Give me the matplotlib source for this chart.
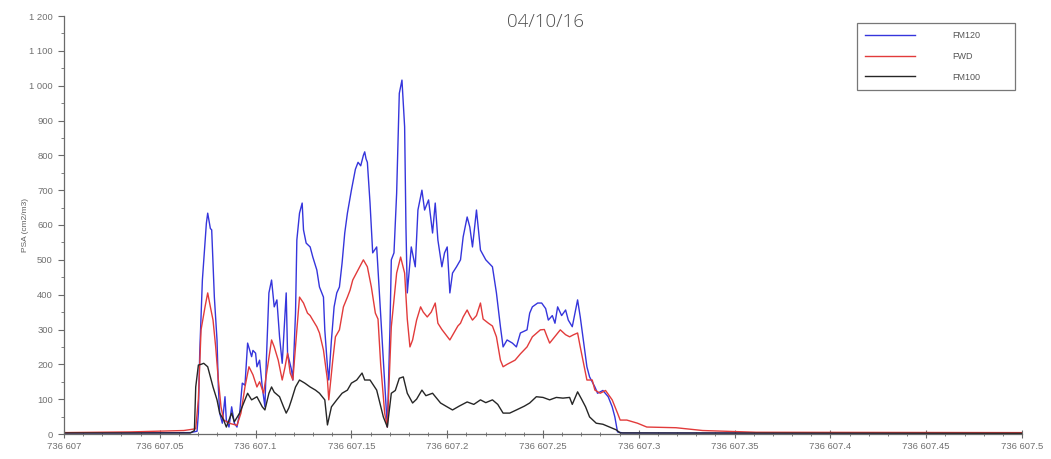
import matplotlib
matplotlib.use("Agg")
import matplotlib.pyplot as plt
from matplotlib.ticker import MultipleLocator, FuncFormatter
import numpy as np

# datenum of the day, readings are minutes after midnight
day0 = 736607

# FM120 (blue)
t_fm120 = [0, 50, 95, 100, 101, 102, 104, 107, 108, 110, 111, 112, 113, 115, 116, 117, 119, 121, 122, 124,
           126, 128, 130, 132, 134, 136, 138, 141, 142, 144, 145, 147, 149, 151, 152, 154, 156, 158, 160, 162,
           164, 165, 167, 168, 171, 172, 174, 175, 177, 179, 180, 182, 185, 187, 190, 192, 195, 196, 198, 199,
           201, 203, 205, 207, 209, 211, 213, 216, 217, 219, 221, 223, 225, 226, 227, 228, 230, 232, 235, 237,
           240, 243, 245, 246, 248, 250, 252, 254, 256, 257, 258, 261, 264, 266, 269, 271, 274, 277, 279, 281,
           284, 286, 288, 290, 292, 295, 298, 300, 303, 305, 307, 310, 313, 317, 322, 325, 328, 330, 333, 337,
           340, 343, 348, 350, 352, 356, 359, 362, 364, 367, 369, 371, 374, 377, 379, 382, 386, 388, 390, 393,
           395, 399, 401, 405, 409, 412, 414, 416, 420, 720]
v_fm120 = [3, 3, 4, 8, 60, 232, 442, 605, 634, 590, 586, 491, 393, 270, 135, 60, 31, 107, 40, 20,
           78, 31, 20, 60, 146, 140, 261, 222, 240, 232, 193, 212, 135, 78, 203, 405, 442, 365, 385, 279,
           203, 270, 405, 232, 184, 155, 347, 557, 634, 663, 586, 548, 537, 508, 471, 422, 393, 299, 193, 155,
           270, 365, 405, 422, 491, 577, 634, 700, 720, 760, 780, 770, 800, 810, 790, 780, 663, 520, 537, 405,
           212, 20, 308, 500, 520, 691, 978, 1016, 882, 594, 405, 537, 480, 643, 700, 643, 672, 577, 663, 557,
           480, 520, 537, 405, 462, 480, 500, 566, 623, 594, 537, 643, 528, 500, 480, 405, 308, 250, 270, 261,
           250, 290, 299, 347, 365, 376, 376, 360, 327, 340, 318, 365, 340, 356, 327, 308, 385, 336, 279, 193,
           164, 135, 117, 125, 107, 78, 49, 6, 3, 2]

# FWD (red)
t_fwd = [0, 50, 90, 99, 101, 103, 106, 108, 110, 112, 114, 116, 118, 120, 125, 130, 133, 136, 139, 142,
         145, 147, 150, 153, 156, 158, 161, 164, 166, 168, 170, 172, 175, 177, 180, 183, 185, 187, 190, 192,
         195, 198, 199, 202, 204, 207, 210, 213, 215, 217, 221, 225, 228, 231, 234, 236, 238, 241, 243, 246,
         250, 253, 256, 258, 260, 262, 265, 268, 270, 273, 276, 279, 281, 284, 286, 290, 293, 296, 298, 300,
         303, 305, 307, 310, 313, 315, 319, 322, 325, 328, 330, 333, 339, 343, 348, 352, 358, 361, 363, 365,
         369, 373, 377, 380, 383, 386, 388, 391, 393, 397, 399, 403, 407, 412, 416, 418, 423, 431, 438, 460,
         480, 520, 720]
v_fwd = [4, 6, 10, 15, 100, 299, 365, 405, 365, 327, 250, 155, 78, 40, 30, 25, 60, 135, 193, 170,
         135, 150, 117, 193, 270, 250, 212, 155, 190, 232, 175, 155, 299, 393, 376, 347, 340, 327, 308, 290,
         241, 155, 98, 212, 279, 299, 365, 393, 413, 442, 471, 500, 480, 422, 347, 330, 200, 60, 20, 308,
         462, 508, 462, 330, 250, 270, 327, 365, 350, 336, 350, 376, 318, 300, 290, 270, 290, 310, 318, 336,
         356, 340, 327, 340, 376, 330, 318, 310, 279, 212, 193, 200, 212, 230, 250, 279, 299, 300, 280, 261,
         280, 299, 285, 279, 285, 290, 250, 193, 155, 155, 126, 117, 125, 98, 60, 40, 40, 31, 20, 18,
         10, 5, 4]

# FM100 (black)
t_fm100 = [0, 95, 98, 99, 101, 103, 105, 108, 110, 112, 115, 117, 120, 122, 126, 128, 132, 136, 138, 141,
           145, 149, 151, 154, 156, 158, 162, 165, 167, 169, 171, 174, 177, 181, 185, 189, 192, 196, 198, 201,
           205, 209, 213, 216, 220, 224, 226, 230, 235, 240, 243, 246, 249, 252, 255, 258, 262, 265, 269, 272,
           277, 283, 287, 292, 297, 303, 308, 313, 317, 322, 326, 330, 335, 340, 346, 350, 355, 360, 365, 370,
           375, 380, 382, 386, 389, 392, 395, 400, 405, 410, 415, 418, 720]
v_fm100 = [3, 3, 10, 135, 198, 200, 203, 193, 164, 135, 98, 60, 40, 20, 60, 35, 60, 98, 117, 98,
           107, 78, 69, 117, 135, 120, 107, 78, 60, 75, 98, 135, 155, 146, 135, 126, 117, 98, 26, 78,
           98, 117, 126, 146, 155, 175, 155, 155, 126, 49, 20, 117, 125, 160, 164, 117, 89, 100, 126, 110,
           117, 89, 80, 69, 80, 92, 85, 98, 90, 98, 85, 60, 60, 69, 80, 89, 107, 105, 98, 105,
           103, 105, 85, 121, 100, 78, 49, 31, 28, 20, 12, 3, 2]

series = [("FM120", t_fm120, v_fm120, "#3535dc"),
          ("FWD", t_fwd, v_fwd, "#e23b3b"),
          ("FM100", t_fm100, v_fm100, "#262626")]

grey = "#6a6a6a"
plt.rcParams["font.family"] = ["Liberation Sans", "DejaVu Sans"]

fig = plt.figure(figsize=(10.51, 4.59), dpi=100)
ax = fig.add_axes([64 / 1051, 25 / 459, 958 / 1051, 418 / 459])

for name, t, v, c in series:
    x = day0 + np.array(t) / 1440.0
    ax.plot(x, v, color=c, lw=1.0, label=name)

ax.set_xlim(day0, day0 + 0.5)
ax.set_ylim(0, 1200)

ax.xaxis.set_major_locator(MultipleLocator(0.05))
ax.xaxis.set_minor_locator(MultipleLocator(0.01))
ax.yaxis.set_major_locator(MultipleLocator(100))
ax.yaxis.set_minor_locator(MultipleLocator(50))


def fmt_x(v, pos):
    s = "{:,.2f}".format(v).rstrip("0").rstrip(".")
    return s.replace(",", " ")


def fmt_y(v, pos):
    return "{:,.0f}".format(v).replace(",", " ")


ax.xaxis.set_major_formatter(FuncFormatter(fmt_x))
ax.yaxis.set_major_formatter(FuncFormatter(fmt_y))

for side in ["top", "right"]:
    ax.spines[side].set_visible(False)
for side in ["left", "bottom"]:
    ax.spines[side].set_color(grey)
    ax.spines[side].set_linewidth(0.9)

ax.tick_params(axis="both", which="both", colors=grey, labelsize=6.8, labelcolor="#707070")
ax.tick_params(axis="x", which="major", direction="inout", length=6, pad=3)
ax.tick_params(axis="x", which="minor", direction="inout", length=3)
ax.tick_params(axis="y", which="major", length=4, pad=4)
ax.tick_params(axis="y", which="minor", length=2)

ax.set_ylabel("PSA (cm2/m3)", fontsize=6, color="#606060")
ax.yaxis.set_label_coords(-0.037, 0.5)

fig.text(545 / 1051, 1 - 22 / 459, "04/10/16", ha="center", va="center",
         fontsize=13.5, color="#505050", family=["Open Sans", "DejaVu Sans"], fontweight="light")

leg = ax.legend(loc="upper left", bbox_to_anchor=(857 / 1051, 1 - 88 / 459, 158 / 1051, 65 / 459),
                bbox_transform=fig.transFigure, mode="expand", fontsize=6.5,
                frameon=True, fancybox=False, handlelength=5.5, handletextpad=4.2,
                labelspacing=1.3, borderpad=0.9, borderaxespad=0)
leg.get_frame().set_edgecolor("#555555")
leg.get_frame().set_linewidth(0.9)
for txt in leg.get_texts():
    txt.set_color("#555555")

fig.savefig("out.png", dpi=100, facecolor="white")
